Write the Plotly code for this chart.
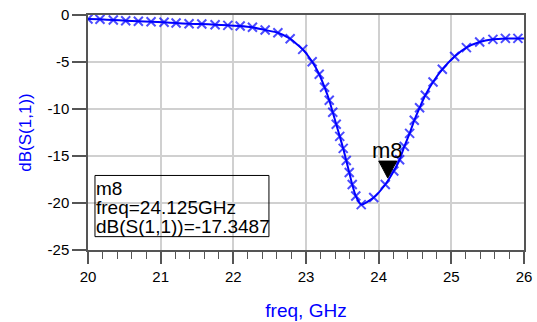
import plotly.graph_objects as go

# Data (marker positions along the S11 curve)
freq_ghz = [20.00, 20.165, 20.348, 20.519, 20.693, 20.868, 21.047, 21.212, 21.391, 21.566,
            21.749, 21.924, 22.094, 22.263, 22.438, 22.613, 22.782, 22.955, 23.085, 23.182,
            23.255, 23.320, 23.368, 23.416, 23.464, 23.512, 23.554, 23.595, 23.636, 23.685,
            23.760, 23.932, 24.091, 24.208, 24.288, 24.353, 24.426, 24.490, 24.563, 24.642,
            24.748, 24.876, 25.045, 25.207, 25.390, 25.572, 25.744, 25.916, 26.00]
s11_db = [-0.43, -0.46, -0.53, -0.61, -0.67, -0.71, -0.78, -0.85, -0.93, -0.96,
          -1.03, -1.10, -1.17, -1.31, -1.60, -1.89, -2.53, -3.66, -4.98, -6.30,
          -7.68, -9.07, -10.35, -11.63, -12.91, -14.19, -15.47, -16.75, -18.03, -19.26,
          -20.17, -19.42, -18.03, -16.59, -15.40, -13.98, -12.59, -11.20, -9.87, -8.54,
          -7.12, -5.78, -4.41, -3.47, -2.88, -2.59, -2.49, -2.49, -2.49]
show_symbol = [1] * 48 + [0]

x_tickvals = [20, 21, 22, 23, 24, 25, 26]
x_ticktext = ["20", "21", "22", "23", "24", "25", "26"]
y_tickvals = [0, -5, -10, -15, -20, -25]
y_ticktext = ["0", "-5", "-10", "-15", "-20", "-25"]

marker_name = "m8"
marker_freq = 24.125
marker_db = -17.3487

box_x = [20.096, 22.49]
box_y = [-17.07, -23.58]

FONT = "Arial, Liberation Sans, sans-serif"
BLUE = "#0000ff"
AXIS = "#555555"
GRID = "#d0d0d0"

fig = go.Figure()
fig.add_trace(go.Scatter(
    x=freq_ghz, y=s11_db, mode="lines+markers",
    line=dict(color=BLUE, width=2, shape="spline", smoothing=0.5),
    marker=dict(symbol="x-thin", size=[9 * s for s in show_symbol],
                line=dict(color=BLUE, width=2), color=BLUE),
    showlegend=False, hoverinfo="skip",
))

# marker triangle (tip at data point)
fig.add_shape(type="path", xref="x", yref="y", xsizemode="pixel", ysizemode="pixel",
              xanchor=marker_freq, yanchor=marker_db,
              path="M0,0 L-9,17 L9,17 Z", fillcolor="black", line=dict(color="black", width=1))
fig.add_annotation(x=marker_freq, y=marker_db, text=marker_name, showarrow=False,
                   yshift=28, font=dict(family=FONT, size=22, color="black"))

# readout box
fig.add_shape(type="rect", xref="x", yref="y", x0=box_x[0], x1=box_x[1], y0=box_y[0], y1=box_y[1],
              line=dict(color="black", width=1), fillcolor="rgba(0,0,0,0)")
lines = [marker_name, f"freq={marker_freq}GHz", f"dB(S(1,1))={marker_db}"]
for i, t in enumerate(lines):
    fig.add_annotation(x=box_x[0], y=box_y[0], xanchor="left", yanchor="middle",
                       xshift=-1, yshift=-12.7 - 19 * i, text=t, showarrow=False,
                       font=dict(family=FONT, size=19, color="black"))

fig.update_layout(
    width=537, height=322,
    margin=dict(l=88, r=13, t=15, b=72),
    paper_bgcolor="white", plot_bgcolor="white",
    font=dict(family=FONT, size=15, color="black"),
    xaxis=dict(range=[20, 26], tickvals=x_tickvals, ticktext=x_ticktext, automargin=False,
               showgrid=True, gridcolor=GRID, gridwidth=1.5,
               showline=True, linecolor=AXIS, linewidth=1.5, mirror=True,
               ticks="outside", ticklen=12, tickcolor=AXIS, tickwidth=1.5,
               minor=dict(ticks="outside", ticklen=7, dtick=0.2, tickcolor=AXIS, tickwidth=1.2, showgrid=False),
               zeroline=False,
               title=dict(text="freq, GHz", font=dict(family=FONT, size=19, color=BLUE), standoff=20)),
    yaxis=dict(range=[-25, 0], tickvals=y_tickvals, ticktext=y_ticktext, automargin=False,
               showgrid=True, gridcolor=GRID, gridwidth=1.5,
               showline=True, linecolor=AXIS, linewidth=1.5, mirror=True,
               ticks="outside", ticklen=14, tickcolor=AXIS, tickwidth=1.5,
               zeroline=False,
               title=dict(text="dB(S(1,1))", font=dict(family=FONT, size=17, color=BLUE), standoff=12)),
)

fig.write_html("out.html", config={"displayModeBar": False},
               post_script="document.body.style.margin='0';")
